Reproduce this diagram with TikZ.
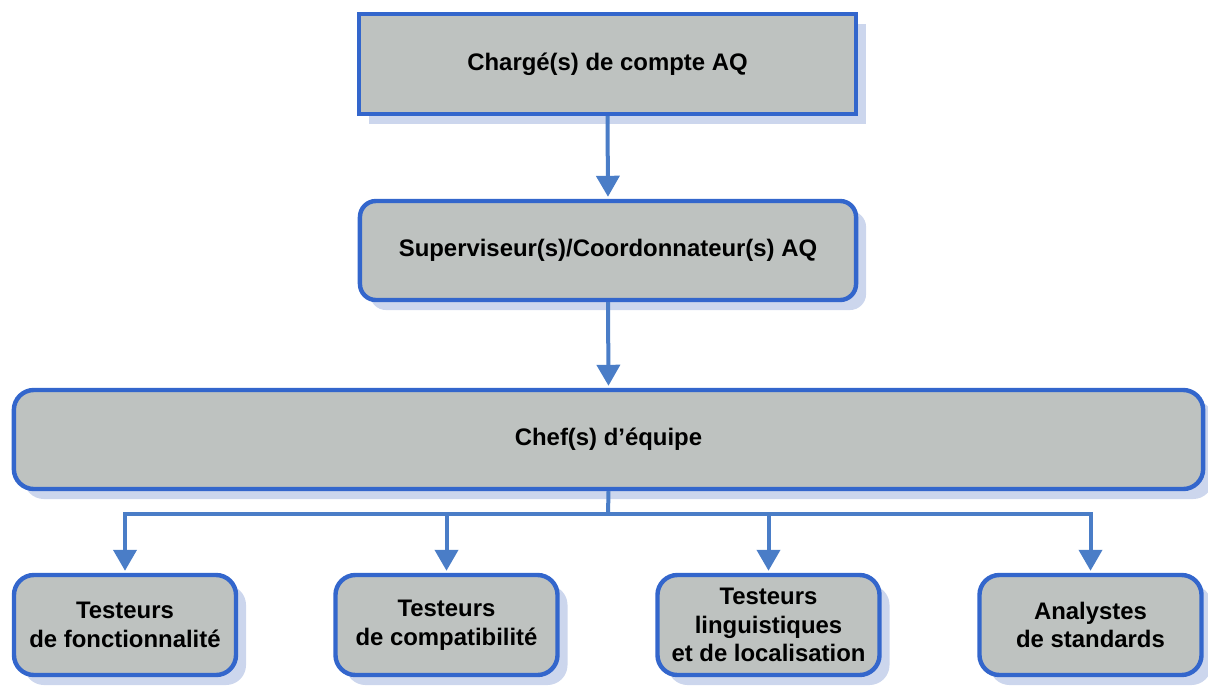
\documentclass[tikz,border=0pt]{standalone}
\usepackage{fontspec}
\setmainfont{Liberation Sans}
\usetikzlibrary{arrows.meta,shadows}
\definecolor{BoxClr}{rgb}{0.745,0.761,0.753}
\definecolor{EdgeClr}{rgb}{0.2,0.4,0.8}
\definecolor{LinkClr}{rgb}{0.29,0.49,0.78}
\definecolor{ShadowClr}{rgb}{0.80,0.84,0.93}

\begin{document}
\begin{tikzpicture}[x=0.025cm,y=-0.025cm,
  unit/.style={draw=EdgeClr,line width=0.11cm,fill=BoxClr,align=center,inner sep=0pt,
    font=\fontsize{17}{20.5}\selectfont\bfseries,
    drop shadow={shadow xshift=0.25cm,shadow yshift=-0.25cm,fill=ShadowClr,opacity=1}},
  team/.style={unit,rounded corners=0.5cm,minimum width=5.55cm,minimum height=2.5cm},
  link/.style={draw=LinkClr,line width=0.1cm,-{Triangle[width=0.575cm,length=0.525cm]},shorten >=0.05cm}]
\useasboundingbox (0,0) rectangle (1208,686);

\node[unit,minimum width=12.425cm,minimum height=2.5cm] (charge) at (607.5,64) {Chargé(s) de compte AQ};
\node[unit,rounded corners=0.4cm,minimum width=12.4cm,minimum height=2.475cm] (superv) at (608,250.5) {Superviseur(s)/Coordonnateur(s) AQ};
\node[unit,rounded corners=0.5cm,minimum width=29.725cm,minimum height=2.475cm] (chef) at (608.5,439.5) {Chef(s) d’équipe};

\node[team] (fonct) at (125,625) {Testeurs\\de fonctionnalité};
\node[team] (compat) at (446.5,625) {Testeurs\\de compatibilité};
\node[team] (lingu) at (768.5,625) {Testeurs\\linguistiques\\et de localisation};
\node[team] (stand) at (1090.5,625) {Analystes\\de standards};

\draw[link] (charge.south) -- (superv.north);
\draw[link] (superv.south) -- (chef.north);

\coordinate (split) at (608,514);
\draw[draw=LinkClr,line width=0.1cm] (chef.south) -- (split);
\foreach \t in {fonct,compat,lingu,stand}
  \draw[link] (split) -| (\t.north);

\end{tikzpicture}
\end{document}
